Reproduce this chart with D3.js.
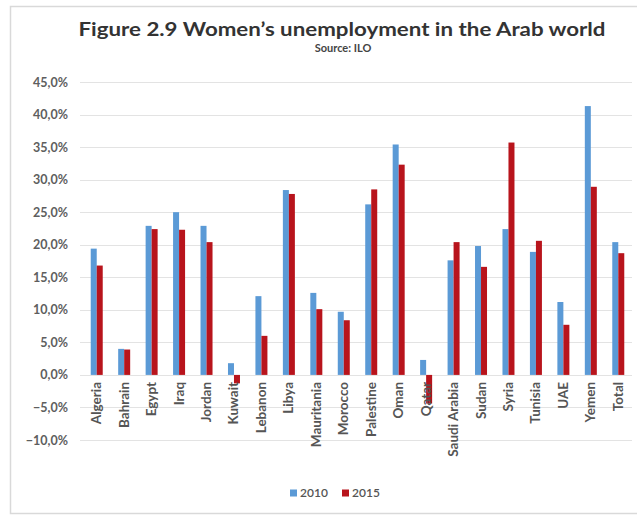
<!DOCTYPE html>
<html>
<head>
<meta charset="utf-8">
<script src="https://cdn.jsdelivr.net/npm/d3@7"></script>
<style>
  html, body { margin: 0; padding: 0; background: #fff; }
  svg { display: block; }
</style>
</head>
<body>
<svg id="chart" width="637" height="515"></svg>
<script>
const categories = ["Algeria","Bahrain","Egypt","Iraq","Jordan","Kuwait","Lebanon","Libya","Mauritania","Morocco","Palestine","Oman","Qatar","Saudi Arabia","Sudan","Syria","Tunisia","UAE","Yemen","Total"];
const values2010 = [19.4, 4.0, 22.9, 25.0, 22.9, 1.8, 12.1, 28.4, 12.6, 9.7, 26.2, 35.4, 2.3, 17.6, 19.8, 22.4, 18.9, 11.2, 41.3, 20.4];
const values2015 = [16.8, 3.9, 22.4, 22.3, 20.4, -1.3, 6.0, 27.8, 10.1, 8.4, 28.5, 32.3, -4.4, 20.4, 16.6, 35.7, 20.6, 7.7, 28.9, 18.7];
const seriesNames = ["2010", "2015"];
const yTicks = [-10, -5, 0, 5, 10, 15, 20, 25, 30, 35, 40, 45];

const colors = {"2010": "#5b9ad6", "2015": "#b8141c"};
const font = "Lato, 'Open Sans', sans-serif";

const svg = d3.select("#chart");

// frame
svg.append("rect").attr("x", 10.5).attr("y", 6.5).attr("width", 640).attr("height", 507)
  .attr("fill", "#fff").attr("stroke", "#d9d9d9").attr("stroke-width", 1.5);

const x = d3.scaleBand().domain(categories).range([83, 632]);
const y = d3.scaleLinear().domain([-10, 45]).range([440, 82]);

// gridlines
svg.append("g").selectAll("line").data(yTicks).join("line")
  .attr("x1", 80).attr("x2", 632)
  .attr("y1", d => Math.round(y(d)) + 0.5).attr("y2", d => Math.round(y(d)) + 0.5)
  .attr("stroke", "#e3e3e3").attr("stroke-width", 1.2);

// y axis labels
const yAxis = d3.axisLeft(y).tickValues(yTicks).tickSize(0).tickPadding(0)
  .tickFormat(d => d3.format(".1f")(d).replace(".", ",") + "%");
const ya = svg.append("g").attr("transform", "translate(68,0)").call(yAxis);
ya.select(".domain").remove();
ya.selectAll("text").attr("font-family", font).attr("font-size", 12.5).attr("font-weight", 700)
  .attr("fill", "#5e5e5e");

// bars
const barW = 6;
const data = categories.map((c, i) => ({c, v: [values2010[i], values2015[i]]}));
const g = svg.append("g");
seriesNames.forEach((s, si) => {
  g.selectAll(".bar" + s).data(data).join("rect")
    .attr("x", d => x(d.c) + x.bandwidth() / 2 - barW + si * barW)
    .attr("width", barW)
    .attr("y", d => y(Math.max(0, d.v[si])))
    .attr("height", d => Math.abs(y(d.v[si]) - y(0)))
    .attr("fill", colors[s]);
});

// x labels (rotated)
svg.append("g").selectAll("text").data(categories).join("text")
  .attr("transform", d => `translate(${x(d) + x.bandwidth() / 2 + 4.5},${y(0) + 7}) rotate(-90)`)
  .attr("text-anchor", "end")
  .attr("font-family", font).attr("font-size", 13.5).attr("font-weight", 700)
  .attr("fill", "#555")
  .text(d => d);

// title
svg.append("text").attr("x", 342).attr("y", 36).attr("text-anchor", "middle")
  .attr("font-family", font).attr("font-size", 19).attr("font-weight", 700).attr("fill", "#333")
  .attr("textLength", 527).attr("lengthAdjust", "spacingAndGlyphs")
  .text("Figure 2.9 Women\u2019s unemployment in the Arab world");
svg.append("text").attr("x", 343).attr("y", 52).attr("text-anchor", "middle")
  .attr("font-family", font).attr("font-size", 11).attr("font-weight", 700).attr("fill", "#444")
  .text("Source: ILO");

// legend
const leg = svg.append("g").attr("transform", "translate(290,493)");
seriesNames.forEach((s, i) => {
  const lg = leg.append("g").attr("transform", `translate(${i * 52},0)`);
  lg.append("rect").attr("x", 0).attr("y", -3.5).attr("width", 7).attr("height", 7).attr("fill", colors[s]);
  lg.append("text").attr("x", 10).attr("y", 4).attr("font-family", font).attr("font-size", 12)
    .attr("font-weight", 600).attr("fill", "#555").text(s);
});
</script>
</body>
</html>
